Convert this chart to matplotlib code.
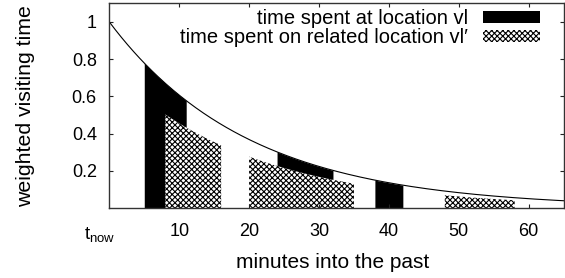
import numpy as np
import matplotlib
matplotlib.use("Agg")
import matplotlib.pyplot as plt
from matplotlib.patches import Patch

# decay of the visiting weight: w(t) = exp(-t / tau)
tau = 20.0
# visits at location vl (minutes into the past)
visit_start = [5, 24, 38]
visit_end = [11, 32, 42]
# visits at related location vl'
related_start = [8, 20, 48]
related_end = [16, 35, 58]
related_weight = 0.75

xticks = [10, 20, 30, 40, 50, 60]
yticks = [0.2, 0.4, 0.6, 0.8, 1.0]
ytick_labels = ["0.2", "0.4", "0.6", "0.8", "1"]

plt.rcParams['font.family'] = ['Liberation Sans', 'DejaVu Sans']
plt.rcParams['hatch.linewidth'] = 0.8
hatch = 'xxxxxx'

fig = plt.figure(figsize=(5.65, 2.78), dpi=100)
ax = fig.add_axes([0.1935, 0.252, 0.804, 0.736])


def decay(t):
    return np.exp(-np.asarray(t) / tau)


for a, b in zip(visit_start, visit_end):
    t = np.linspace(a, b, 50)
    ax.fill_between(t, 0, decay(t), color='black', lw=0)

for a, b in zip(related_start, related_end):
    t = np.linspace(a, b, 50)
    ax.fill_between(t, 0, related_weight * decay(t), facecolor='white',
                    edgecolor='black', hatch=hatch, lw=0)

t = np.linspace(0, 65, 300)
ax.plot(t, decay(t), color='black', lw=0.8)

ax.set_xlim(0, 65)
ax.set_ylim(0, 1.1)
ax.set_xticks(xticks)
ax.set_yticks(yticks)
ax.set_yticklabels(ytick_labels)
ax.tick_params(direction='in', length=3, width=0.8, top=True, right=True,
               labelsize=13, colors='#222222', labelcolor='black')
ax.tick_params(axis='x', pad=11)
ax.tick_params(axis='y', pad=9)
for s in ax.spines.values():
    s.set_linewidth(1.0)
    s.set_color('#333333')

# t_now label under the origin
ax.text(-1.4, -0.165, r'$\mathregular{t_{now}}$', ha='center', va='baseline',
        fontsize=13.5, transform=ax.transData, clip_on=False)

fig.text(0.589, 0.036, 'minutes into the past', ha='center', va='baseline',
         fontsize=15)
fig.text(0.046, 0.619, 'weighted visiting time', ha='center', va='center',
         rotation=90, fontsize=15.3)

handles = [Patch(facecolor='black', edgecolor='black', lw=0),
           Patch(facecolor='white', edgecolor='black', hatch=hatch, lw=0)]
ax.legend(handles, ['time spent at location vl',
                    u'time spent on related location vl\u2032'],
          loc='upper right', frameon=False, markerfirst=False, fontsize=14.5,
          handlelength=2.8, handleheight=0.5, handletextpad=0.75,
          labelspacing=0.0, borderaxespad=0.0, bbox_to_anchor=(0.965, 1.01))

fig.savefig('out.png', dpi=100)
